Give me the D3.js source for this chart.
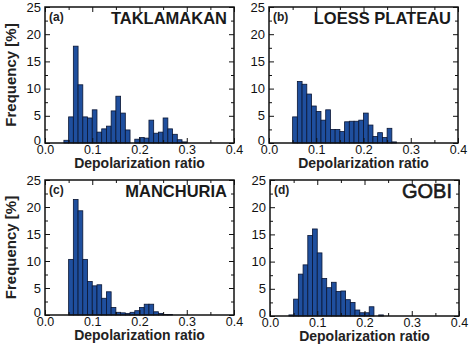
<!DOCTYPE html>
<html>
<head>
<meta charset="utf-8">
<script src="https://cdn.jsdelivr.net/npm/d3@7"></script>
<style>
  body { margin: 0; background: #fff; }
  svg { display: block; font-family: "Liberation Sans", Arial, sans-serif; }
</style>
</head>
<body>
<div id="chart"></div>
<script>
// bin start of each 0.01-wide depolarization-ratio bin
var bins = [0.04, 0.05, 0.06, 0.07, 0.08, 0.09, 0.10, 0.11, 0.12, 0.13, 0.14, 0.15, 0.16,
            0.17, 0.18, 0.19, 0.20, 0.21, 0.22, 0.23, 0.24, 0.25, 0.26, 0.27, 0.28, 0.29];

// frequency [%] per bin
var taklamakan = [0.5, 4.8, 17.8, 10.7, 4.8, 4.6, 6.1, 2.0, 2.6, 3.1, 5.9, 8.6, 5.5,
                  2.4, 0, 0.7, 1.0, 0.9, 4.2, 1.8, 2.0, 4.6, 2.6, 1.6, 0.6, 0.2];
var loess      = [0, 4.8, 11.3, 10.8, 9.0, 6.8, 5.8, 4.2, 6.1, 2.5, 2.5, 2.1, 3.9,
                  4.0, 4.0, 4.2, 5.5, 3.3, 1.2, 1.9, 1.0, 2.7, 0.2, 0, 0, 0];
var manchuria  = [0, 10.3, 21.4, 19.3, 10.3, 6.2, 5.4, 5.6, 3.1, 4.3, 1.4, 0.5, 0.4,
                  0.3, 0.5, 0.8, 1.4, 2.0, 2.0, 0.6, 0.3, 0.1, 0.1, 0, 0, 0];
var gobi       = [0.2, 3.1, 7.7, 9.4, 14.8, 16.0, 11.6, 6.9, 5.2, 6.2, 4.5, 4.6, 3.0,
                  2.5, 1.1, 0.6, 0.6, 1.7, 0, 0.2, 0, 0, 0, 0, 0, 0];

var xTicks = [0, 0.1, 0.2, 0.3, 0.4];
var xMinor = [0.05, 0.15, 0.25, 0.35];
var yTicks = [0, 5, 10, 15, 20, 25];
var yMinor = [2.5, 7.5, 12.5, 17.5, 22.5];

var panels = [
  {tag: "(a)", name: "TAKLAMAKAN",    values: taklamakan, x0: 45,  x1: 234, y0: 7,   y1: 143},
  {tag: "(b)", name: "LOESS PLATEAU", values: loess,      x0: 269, x1: 458, y0: 7,   y1: 143},
  {tag: "(c)", name: "MANCHURIA",     values: manchuria,  x0: 45,  x1: 234, y0: 180, y1: 315},
  {tag: "(d)", name: "GOBI",          values: gobi,       x0: 270, x1: 459, y0: 180, y1: 316, plain: true}
];

var svg = d3.select("#chart").append("svg")
  .attr("width", 470)
  .attr("height", 344);

panels.forEach(function (p) {
  var x = d3.scaleLinear().domain([0, 0.4]).range([p.x0, p.x1]);
  var y = d3.scaleLinear().domain([0, 25]).range([p.y1, p.y0]);
  var g = svg.append("g");

  var data = bins.map(function (b, i) { return {b: b, v: p.values[i]}; })
    .filter(function (d) { return d.v > 0; });

  g.selectAll("rect.bar")
    .data(data)
    .enter().append("rect")
      .attr("class", "bar")
      .attr("x", function (d) { return x(d.b); })
      .attr("width", function (d) { return x(d.b + 0.01) - x(d.b); })
      .attr("y", function (d) { return y(d.v); })
      .attr("height", function (d) { return y(0) - y(d.v); })
      .style("fill", "#1f4f9e")
      .style("stroke", "#0a1634")
      .style("stroke-width", 0.8);

  // inward ticks on all four sides
  function axis(gen, tr, vals, size, labels) {
    var a = g.append("g").attr("transform", tr)
      .call(gen.tickValues(vals).tickSize(size).tickPadding(labels ? 3 : 0)
        .tickFormat(labels ? labels : ""));
    a.select(".domain").remove();
    a.selectAll("line").style("stroke", "#111").style("stroke-width", 1);
    return a;
  }
  var bx = axis(d3.axisBottom(x), "translate(0," + p.y1 + ")", xTicks, -5, d3.format(".1f"));
  axis(d3.axisBottom(x), "translate(0," + p.y1 + ")", xMinor, -3);
  axis(d3.axisTop(x), "translate(0," + p.y0 + ")", xTicks, -5);
  axis(d3.axisTop(x), "translate(0," + p.y0 + ")", xMinor, -3);
  var ly = axis(d3.axisLeft(y), "translate(" + p.x0 + ",0)", yTicks, -5, d3.format("d"));
  axis(d3.axisLeft(y), "translate(" + p.x0 + ",0)", yMinor, -3);
  axis(d3.axisRight(y), "translate(" + p.x1 + ",0)", yTicks, -5);
  axis(d3.axisRight(y), "translate(" + p.x1 + ",0)", yMinor, -3);

  bx.selectAll("text").style("font-size", "12.5px").style("fill", "#111")
    .attr("y", 2);
  ly.selectAll("text").style("font-size", "13px").style("fill", "#111")
    .attr("x", -4)
    .attr("y", function (d) { return d === 0 ? -3 : 0; });

  g.append("rect")
    .attr("x", p.x0).attr("y", p.y0)
    .attr("width", p.x1 - p.x0).attr("height", p.y1 - p.y0)
    .style("fill", "none").style("stroke", "#111").style("stroke-width", 1.5);

  g.append("text")
    .attr("x", p.x0 + 4).attr("y", p.y0 + 14)
    .style("font-size", "12px").style("font-weight", "bold").style("fill", "#222")
    .text(p.tag);

  g.append("text")
    .attr("x", p.x1 - 7).attr("y", p.y0 + (p.plain ? 18 : 17))
    .attr("text-anchor", "end")
    .style("font-size", p.plain ? "20px" : "16.5px")
    .style("font-weight", p.plain ? "normal" : "bold")
    .style("fill", "#1a1a1a")
    .style("stroke", p.plain ? "#1a1a1a" : "none")
    .style("stroke-width", 0.6)
    .text(p.name);

  g.append("text")
    .attr("x", (p.x0 + p.x1) / 2).attr("y", p.y1 + 25)
    .attr("text-anchor", "middle")
    .style("font-size", "14px").style("font-weight", "bold").style("fill", "#222")
    .text("Depolarization ratio");

  if (p.x0 < 100) {
    g.append("text")
      .attr("transform", "translate(16," + ((p.y0 + p.y1) / 2) + ") rotate(-90)")
      .attr("text-anchor", "middle")
      .style("font-size", "15px").style("font-weight", "bold").style("fill", "#222")
      .text("Frequency [%]");
  }
});
</script>
</body>
</html>
